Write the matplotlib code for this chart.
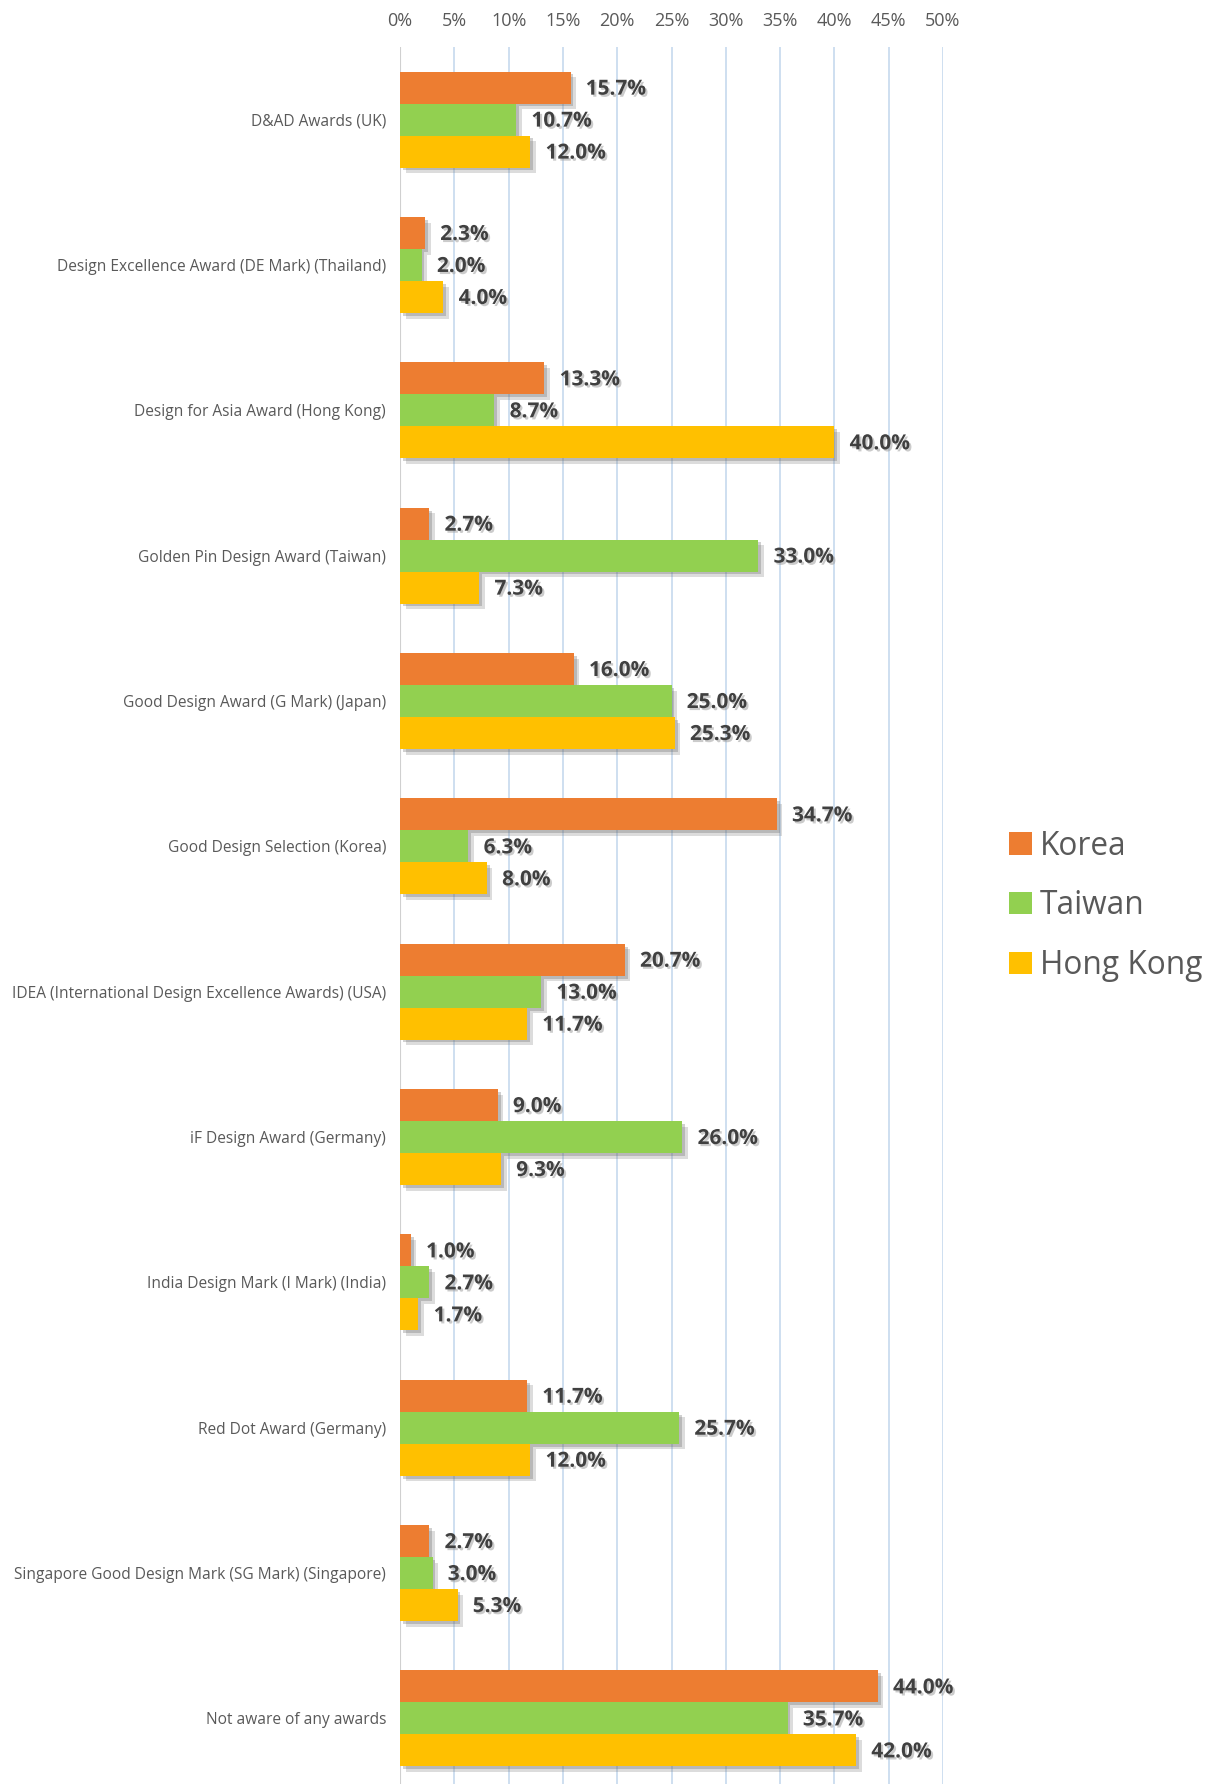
import matplotlib.pyplot as plt
import matplotlib.patheffects as pe
from matplotlib.patches import Patch
import numpy as np

plt.rcParams['font.family'] = ['Open Sans', 'DejaVu Sans']

# данные опроса (%)
categories = ["D&AD Awards (UK)",
              "Design Excellence Award (DE Mark) (Thailand)",
              "Design for Asia Award (Hong Kong)",
              "Golden Pin Design Award (Taiwan)",
              "Good Design Award (G Mark) (Japan)",
              "Good Design Selection (Korea)",
              "IDEA (International Design Excellence Awards) (USA)",
              "iF Design Award (Germany)",
              "India Design Mark (I Mark) (India)",
              "Red Dot Award (Germany)",
              "Singapore Good Design Mark (SG Mark) (Singapore)",
              "Not aware of any awards"]
korea = [15.7, 2.3, 13.3, 2.7, 16.0, 34.7, 20.7, 9.0, 1.0, 11.7, 2.7, 44.0]
taiwan = [10.7, 2.0, 8.7, 33.0, 25.0, 6.3, 13.0, 26.0, 2.7, 25.7, 3.0, 35.7]
hong_kong = [12.0, 4.0, 40.0, 7.3, 25.3, 8.0, 11.7, 9.3, 1.7, 12.0, 5.3, 42.0]
series_names = ["Korea", "Taiwan", "Hong Kong"]
colors = ["#ED7D31", "#92D050", "#FFC000"]

fig = plt.figure(figsize=(12.14, 17.84), dpi=100)
ax = fig.add_axes([400/1214, -0.004, (943-400)/1214, 1 - 47/1784 + 0.004])

y = np.arange(len(categories))
h = 0.22
# мягкая тень под столбцами
shadow = [pe.SimplePatchShadow(offset=(4, -4), shadow_rgbFace='#777777', alpha=0.25),
          pe.SimplePatchShadow(offset=(2, -2), shadow_rgbFace='#666666', alpha=0.3),
          pe.Normal()]
txt_shadow = [pe.withSimplePatchShadow(offset=(1.5, -1.5), shadow_rgbFace='#999999', alpha=0.5)]

for i, (vals, c) in enumerate(zip([korea, taiwan, hong_kong], colors)):
    pos = y + (i - 1) * h
    bars = ax.barh(pos, vals, height=h, color=c, zorder=3)
    for b in bars:
        b.set_path_effects(shadow)
    for p, v in zip(pos, vals):
        ax.text(v + 1.4, p + 0.01, f"{v:.1f}%", va='center', ha='left', fontsize=15,
                fontweight='bold', color='#404040', zorder=4, path_effects=txt_shadow)

ax.set_xlim(0, 50)
ax.set_ylim(len(categories) - 0.5, -0.5)
ax.set_xticks(np.arange(0, 51, 5))
ax.set_xticklabels([f"{t}%" for t in range(0, 51, 5)])
ax.xaxis.tick_top()
ax.tick_params(axis='x', length=0, labelsize=13, labelcolor='#595959', pad=12)
ax.set_yticks(y)
ax.set_yticklabels(categories)
ax.tick_params(axis='y', length=0, labelsize=11.2, labelcolor='#595959', pad=10)
ax.grid(axis='x', color='#C6D9EE', linewidth=1.2, zorder=0)
for s in ax.spines.values():
    s.set_visible(False)
ax.axvline(0, color='#D0D0D0', linewidth=1.5, zorder=2)

handles = [Patch(facecolor=c, label=n) for c, n in zip(colors, series_names)]
fig.legend(handles=handles, loc='center left', bbox_to_anchor=(981/1214, 1 - 906/1784),
           frameon=False, fontsize=22.8, labelcolor='#595959', handlelength=0.7,
           handleheight=0.7, handletextpad=0.25, labelspacing=0.85)

fig.savefig("out.png", dpi=100)
